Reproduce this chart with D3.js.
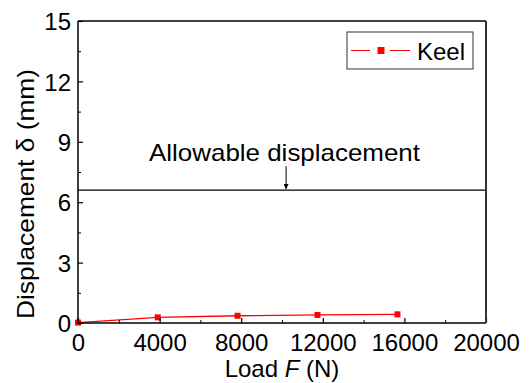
<!DOCTYPE html>
<html>
<head>
<meta charset="utf-8">
<script src="https://cdn.jsdelivr.net/npm/d3@7"></script>
<style>
  html, body { margin: 0; padding: 0; background: #fff; }
  svg { display: block; font-family: "Liberation Sans", Arial, sans-serif; }
</style>
</head>
<body>
<div id="chart"></div>
<script>
// Keel displacement vs load
const loads = [0, 3910, 7820, 11740, 15660];
const displacements = [0.02, 0.28, 0.36, 0.40, 0.43];
const allowable = 6.6;
const xTicks = [0, 4000, 8000, 12000, 16000, 20000];
const yTicks = [0, 3, 6, 9, 12, 15];
const seriesName = "Keel";

const width = 531, height = 383;
const margin = { top: 21, right: 45, bottom: 60, left: 78 };
const iw = width - margin.left - margin.right;
const ih = height - margin.top - margin.bottom;
const fs = 24;

const svg = d3.select("#chart").append("svg")
  .attr("width", width).attr("height", height);
const g = svg.append("g").attr("transform", `translate(${margin.left},${margin.top})`);

const x = d3.scaleLinear().domain([0, 20000]).range([0, iw]);
const y = d3.scaleLinear().domain([0, 15]).range([ih, 0]);

// data
const pts = loads.map((l, i) => [l, displacements[i]]);
const line = d3.line().x((d) => x(d[0])).y((d) => y(d[1]));
g.append("path").datum(pts)
  .attr("d", line).attr("fill", "none")
  .attr("stroke", "#ff0000").attr("stroke-width", 1.3);
g.selectAll(".mk").data(pts).enter().append("rect")
  .attr("class", "mk")
  .attr("x", (d) => x(d[0]) - 3).attr("y", (d) => y(d[1]) - 3)
  .attr("width", 6).attr("height", 6).attr("fill", "#ff0000");

// allowable displacement line
g.append("line")
  .attr("x1", 0).attr("x2", iw)
  .attr("y1", y(allowable)).attr("y2", y(allowable))
  .attr("stroke", "#000").attr("stroke-width", 1.4);

const arrowX = x(10200);
svg.append("defs").append("marker")
  .attr("id", "ah").attr("viewBox", "0 0 10 10")
  .attr("refX", 10).attr("refY", 5)
  .attr("markerWidth", 5).attr("markerHeight", 5)
  .attr("markerUnits", "userSpaceOnUse")
  .attr("orient", "auto")
  .append("path").attr("d", "M0,0L10,5L0,10Z").attr("fill", "#000");
g.append("line")
  .attr("x1", arrowX).attr("x2", arrowX)
  .attr("y1", y(allowable) - 24).attr("y2", y(allowable) - 1)
  .attr("stroke", "#000").attr("stroke-width", 1)
  .attr("marker-end", "url(#ah)");
g.append("text")
  .attr("x", 149 - margin.left).attr("y", 161 - margin.top)
  .attr("font-size", fs).attr("fill", "#000")
  .attr("textLength", 271).attr("lengthAdjust", "spacingAndGlyphs")
  .text("Allowable displacement");

// axes
const xAxis = g.append("g").attr("transform", `translate(0,${ih})`)
  .call(d3.axisBottom(x).tickValues(xTicks).tickSize(-5).tickFormat(d3.format("d")));
xAxis.selectAll(".tick line").attr("stroke-width", 1.2);
xAxis.selectAll("text").attr("font-size", fs).attr("fill", "#000").attr("font-family", null)
  .attr("y", 27.5).attr("dy", null);
const xMinor = g.append("g").attr("transform", `translate(0,${ih})`)
  .call(d3.axisBottom(x).tickValues([2000, 6000, 10000, 14000, 18000]).tickSize(-3).tickFormat(""));
xMinor.select(".domain").remove();

const yAxis = g.append("g")
  .call(d3.axisLeft(y).tickValues(yTicks).tickSize(-5).tickPadding(7));
yAxis.selectAll(".tick line").attr("stroke-width", 1.2);
yAxis.selectAll("text").attr("font-size", fs).attr("fill", "#000").attr("font-family", null)
  .attr("dy", "0.36em");
const yMinor = g.append("g")
  .call(d3.axisLeft(y).tickValues([1.5, 4.5, 7.5, 10.5, 13.5]).tickSize(-3).tickFormat(""));
yMinor.select(".domain").remove();

xAxis.select(".domain").attr("stroke-width", 1.5).attr("d", `M0,0H${iw}`);
yAxis.select(".domain").attr("stroke-width", 1.5).attr("d", `M0,0V${ih}`);

// frame top & right
g.append("line").attr("x1", 0).attr("x2", iw).attr("y1", 0).attr("y2", 0)
  .attr("stroke", "#000").attr("stroke-width", 1.5);
g.append("line").attr("x1", iw).attr("x2", iw).attr("y1", 0).attr("y2", ih)
  .attr("stroke", "#333").attr("stroke-width", 2);

// axis titles
const xt = svg.append("text")
  .attr("x", margin.left + iw / 2).attr("y", 377)
  .attr("text-anchor", "middle").attr("font-size", fs).attr("fill", "#000");
xt.append("tspan").text("Load ");
xt.append("tspan").attr("font-style", "italic").text("F");
xt.append("tspan").text(" (N)");

svg.append("text")
  .attr("transform", "translate(34,194) rotate(-90)")
  .attr("text-anchor", "middle").attr("font-size", fs).attr("fill", "#000")
  .attr("textLength", 250).attr("lengthAdjust", "spacingAndGlyphs")
  .text("Displacement δ (mm)");

// legend
const lg = svg.append("g").attr("transform", "translate(347,32)");
lg.append("rect").attr("x", 0).attr("y", 0).attr("width", 126).attr("height", 37)
  .attr("fill", "#fff").attr("stroke", "#333").attr("stroke-width", 1);
lg.append("line").attr("x1", 4).attr("x2", 23).attr("y1", 18.5).attr("y2", 18.5)
  .attr("stroke", "#ff0000").attr("stroke-width", 1);
lg.append("line").attr("x1", 43).attr("x2", 63).attr("y1", 18.5).attr("y2", 18.5)
  .attr("stroke", "#ff0000").attr("stroke-width", 1);
lg.append("rect").attr("x", 30.5).attr("y", 15).attr("width", 7).attr("height", 7).attr("fill", "#ff0000");
lg.append("text").attr("x", 70).attr("y", 27.5).attr("font-size", fs).attr("fill", "#000")
  .text(seriesName);
</script>
</body>
</html>
